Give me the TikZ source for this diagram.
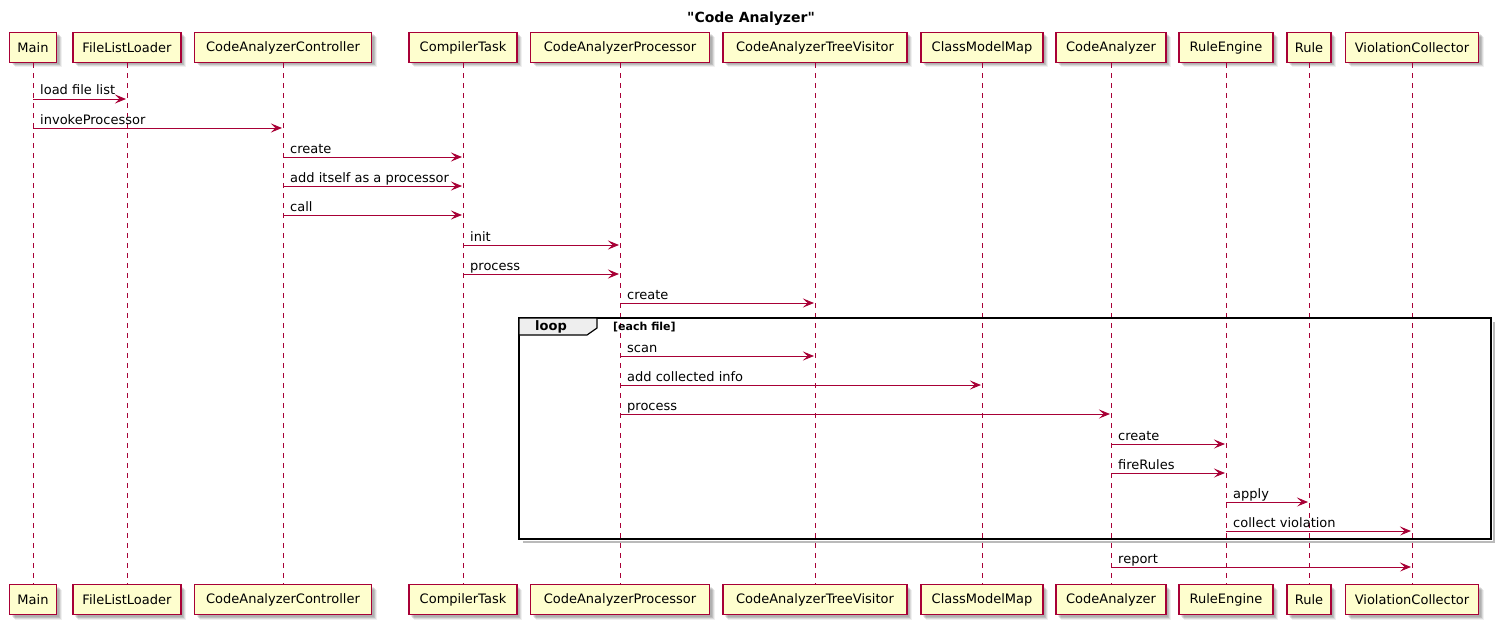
\documentclass[tikz,border=0pt]{standalone}
\usepackage{fontspec}
\setmainfont{DejaVu Sans}
\usetikzlibrary{arrows.meta,shadows,calc}
\definecolor{pborder}{HTML}{A80036}
\definecolor{pfill}{HTML}{FEFECE}
\definecolor{tabfill}{HTML}{EEEEEE}
\newcommand\straightquote{\XeTeXglyph\XeTeXcharglyph"22\relax}
\tikzset{
  shd/.style={drop shadow={shadow xshift=5pt,shadow yshift=-5pt,opacity=0.06,fill=black},
              drop shadow={shadow xshift=4pt,shadow yshift=-4pt,opacity=0.09,fill=black},
              drop shadow={shadow xshift=3pt,shadow yshift=-3pt,opacity=0.12,fill=black},
              drop shadow={shadow xshift=2pt,shadow yshift=-2pt,opacity=0.08,fill=black}},
  part/.style={draw=pborder, fill=pfill, line width=1.2pt, minimum width=#1, minimum height=30pt,
               inner sep=0pt, font=\fontsize{13}{15}\selectfont, shd},
  life/.style={draw=pborder, line width=0.8pt, dash pattern=on 5pt off 5pt},
  msgline/.style={draw=pborder, line width=1pt, -{Stealth[length=11pt,width=9pt,inset=4.5pt]}},
  msglabel/.style={anchor=base west, font=\fontsize{13}{15}\selectfont, inner sep=0pt},
}
\newcommand\seqmsg[4]{%
  \draw[msgline] (#1 |- 0,#3) -- ($(#2 |- 0,#3)+(-1,0)$);
  \node[msglabel] at ($(#1 |- 0,#3)+(7,-4)$) {#4};}
\begin{document}
\begin{tikzpicture}[x=1pt,y=-1pt]
\useasboundingbox (0,0) rectangle (1502,626);
% title
\node[anchor=base, font=\fontsize{14}{16}\selectfont\bfseries, inner sep=0pt] (title) at (751,22.5) {\straightquote Code Analyzer\straightquote};
% participants (top)
\node[part=47pt]  (Main) at (33,47.5)   {Main};
\node[part=108pt] (FLL)  at (127,47.5)  {FileListLoader};
\node[part=177pt] (CAC)  at (283,47.5)  {CodeAnalyzerController};
\node[part=108pt] (CT)   at (463,47.5)  {CompilerTask};
\node[part=179pt] (CAP)  at (620,47.5)  {CodeAnalyzerProcessor};
\node[part=184pt] (CATV) at (815,47.5)  {CodeAnalyzerTreeVisitor};
\node[part=122pt] (CMM)  at (982,47.5)  {ClassModelMap};
\node[part=110pt] (CA)   at (1111,47.5) {CodeAnalyzer};
\node[part=94pt]  (RE)   at (1226,47.5) {RuleEngine};
\node[part=44pt]  (Rule) at (1309,47.5) {Rule};
\node[part=133pt] (VC)   at (1412,47.5) {ViolationCollector};
% participants (bottom)
\node[part=47pt]  (Main2) at (33,599.5)   {Main};
\node[part=108pt] (FLL2)  at (127,599.5)  {FileListLoader};
\node[part=177pt] (CAC2)  at (283,599.5)  {CodeAnalyzerController};
\node[part=108pt] (CT2)   at (463,599.5)  {CompilerTask};
\node[part=179pt] (CAP2)  at (620,599.5)  {CodeAnalyzerProcessor};
\node[part=184pt] (CATV2) at (815,599.5)  {CodeAnalyzerTreeVisitor};
\node[part=122pt] (CMM2)  at (982,599.5)  {ClassModelMap};
\node[part=110pt] (CA2)   at (1111,599.5) {CodeAnalyzer};
\node[part=94pt]  (RE2)   at (1226,599.5) {RuleEngine};
\node[part=44pt]  (Rule2) at (1309,599.5) {Rule};
\node[part=133pt] (VC2)   at (1412,599.5) {ViolationCollector};
% lifelines
\foreach \p in {Main,FLL,CAC,CT,CAP,CATV,CMM,CA,RE,Rule,VC}{
  \draw[life] (\p.south) -- (\p2.north);
}
% loop frame
\coordinate (fTL) at (519,318);
\coordinate (fBR) at (1491,539);
\draw[black!45, line width=2.5pt, opacity=0.6] ($(fBR|-fTL)+(3,4)$) -- ($(fBR)+(3,3)$) -- ($(fTL|-fBR)+(4,3)$);
\draw[black, line width=1.6pt] (fTL) rectangle (fBR);
\draw[black, line width=1.2pt, fill=tabfill] (519,318) -- (597,318) -- (597,328) -- (587,335) -- (519,335) -- cycle;
\node[anchor=base, font=\fontsize{13}{15}\selectfont\bfseries, inner sep=0pt] (looplbl) at (551,330.5) {loop};
\node[anchor=base west, font=\fontsize{11}{13}\selectfont\bfseries, inner sep=0pt] (loopcond) at (613,330.5) {[each file]};
% messages
\seqmsg{Main}{FLL}{99}{load file list}
\seqmsg{Main}{CAC}{128}{invokeProcessor}
\seqmsg{CAC}{CT}{157}{create}
\seqmsg{CAC}{CT}{186}{add itself as a processor}
\seqmsg{CAC}{CT}{215}{call}
\seqmsg{CT}{CAP}{245}{init}
\seqmsg{CT}{CAP}{274}{process}
\seqmsg{CAP}{CATV}{303}{create}
\seqmsg{CAP}{CATV}{356}{scan}
\seqmsg{CAP}{CMM}{385}{add collected info}
\seqmsg{CAP}{CA}{414}{process}
\seqmsg{CA}{RE}{444}{create}
\seqmsg{CA}{RE}{473}{fireRules}
\seqmsg{RE}{Rule}{502}{apply}
\seqmsg{RE}{VC}{531}{collect violation}
\seqmsg{CA}{VC}{567}{report}
\end{tikzpicture}
\end{document}
